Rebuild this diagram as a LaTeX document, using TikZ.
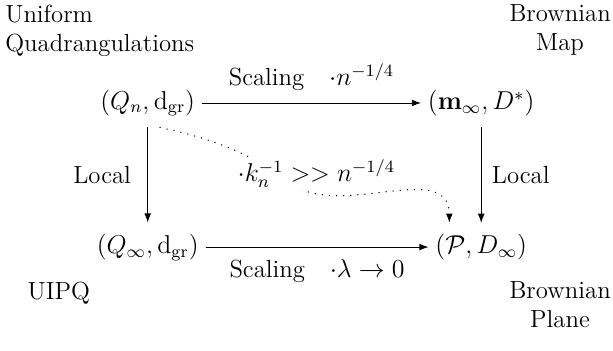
\documentclass[tikz,border=0pt]{standalone}
\usepackage{amsmath,amssymb}
\usetikzlibrary{arrows.meta,positioning,calc}

\begin{document}
\begin{tikzpicture}[
  font=\fontsize{11.5}{13.5}\selectfont, >={Latex[length=1.5mm,width=1.1mm]},
  obj/.style={inner xsep=3pt, inner ysep=5pt},
  txt/.style={inner sep=0pt, align=center},
  dots/.style={line cap=round, dash pattern=on 0.1pt off 3.2pt, semithick}]
\useasboundingbox (0,0) rectangle (10,5.71);
% the four spaces
\node[obj] (qn) at (2.41,4.03) {$(Q_n,\mathrm{d}_{\mathrm{gr}})$};
\node[obj] (minf) at (7.85,4.03) {$(\mathbf{m}_\infty,D^*)$};
\node[obj] (qinf) at (2.41,1.68) {$(Q_\infty,\mathrm{d}_{\mathrm{gr}})$};
\node[obj] (plane) at (7.85,1.68) {$(\mathcal{P},D_\infty)$};
% names
\node[txt, anchor=north west, align=left] (unif) at (0.08,5.64) {Uniform\\Quadrangulations};
\node[txt, anchor=north east] (bmap) at (9.97,5.64) {Brownian\\Map};
\node[txt] (uipq) at (0.96,0.93) {UIPQ};
\node[txt, anchor=north east] (bplane) at (9.97,1.12) {Brownian\\Plane};
% limits
\draw[->] (qn) -- node[above=0.8mm]{Scaling\quad$\cdot n^{-1/4}$} (minf);
\draw[->] (qinf) -- node[below=0.8mm]{Scaling\quad$\cdot\lambda\to 0$} (plane);
\draw[->] (qn) -- node[left=1.5mm]{Local} (qinf);
\draw[->] (minf) -- node[right=0.5mm]{Local} (plane);
\coordinate (kmid) at (4.6,2.86);
\draw[dots, ->] ([xshift=2mm]qn.south) to[out=-12, in=150] (kmid)
  to[out=-52, in=90] ([xshift=-5.2mm]plane.north);
\node[fill=white, inner sep=1pt] (kl) at (5.16,2.88) {$\cdot k_n^{-1}>>n^{-1/4}$};
\end{tikzpicture}
\end{document}
